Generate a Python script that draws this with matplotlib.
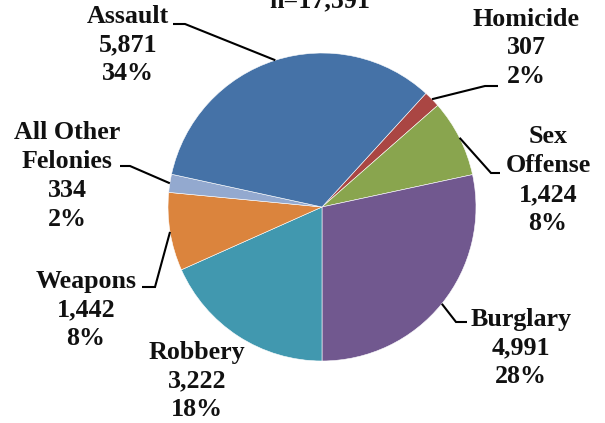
import numpy as np
import matplotlib
matplotlib.use("Agg")
import matplotlib.pyplot as plt

# ---- data ----
categories = ["Homicide", "Sex\nOffense", "Burglary", "Robbery", "Weapons",
              "All Other\nFelonies", "Assault"]
counts = [307, 1424, 4991, 3222, 1442, 334, 5871]
pct_labels = ["2%", "8%", "28%", "18%", "8%", "2%", "34%"]
colors = ["#AA4643", "#89A54E", "#71588F", "#4198AF", "#DB843D",
          "#93A9CF", "#4572A7"]
title = "n=17,591"

# ---- layout (pixels in 605x423 image) ----
W, H = 605, 423
CX, CY, R = 322, 207, 154

def d(px, py):
    return ((px - CX) / R, (CY - py) / R)

# label centre, elbow, end (pixels); None = no leader
layout = {
    "Homicide": ((526, 48), (485, 86), (498, 86)),
    "Sex\nOffense": ((548, 180), (491, 173), (500, 173)),
    "Burglary": ((521, 348), (456, 322), (467, 322)),
    "Robbery": ((197, 381), None, None),
    "Weapons": ((86, 310), (155, 287), (142, 287)),
    "All Other\nFelonies": ((67, 176), (130, 166), (120, 166)),
    "Assault": ((128, 45), (185, 24), (173, 24)),
}

plt.rcParams['font.family'] = ['Liberation Serif', 'DejaVu Serif']
fig = plt.figure(figsize=(W / 100, H / 100), dpi=100)
ax = fig.add_axes([0, 0, 1, 1])

total = sum(counts)
start = -90 + 360 * sum(counts[:3]) / total
wedges, _ = ax.pie(counts, colors=colors, startangle=start, counterclock=False,
                   radius=1.0, wedgeprops=dict(edgecolor="white", linewidth=0.4))

x0, y0 = d(0, H)
x1, y1 = d(W, 0)
ax.set_xlim(x0, x1)
ax.set_ylim(y0, y1)
ax.set_aspect('auto')
ax.axis('off')

fs = 18.7
for w, cat, n, p in zip(wedges, categories, counts, pct_labels):
    (lx, ly), elbow, end = layout[cat]
    tx, ty = d(lx, ly)
    ax.text(tx, ty, f"{cat}\n{n:,}\n{p}", ha='center', va='center',
            multialignment='center', fontsize=fs, fontweight='bold',
            linespacing=1.32, color='#111111')
    if elbow is not None:
        mid = np.deg2rad((w.theta1 + w.theta2) / 2)
        ax_, ay_ = np.cos(mid), np.sin(mid)
        ex, ey = d(*elbow)
        nx, ny = d(*end)
        ax.plot([ax_, ex, nx], [ay_, ey, ny], color='black', lw=1.5,
                solid_capstyle='butt', solid_joinstyle='miter')

tx, ty = d(320, 7)
ax.text(tx, ty, title, ha='center', va='baseline', fontsize=fs,
        fontweight='bold', color='#111111')

fig.savefig("out.png", dpi=100)
